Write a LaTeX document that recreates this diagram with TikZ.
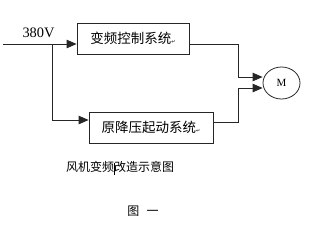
\documentclass[tikz,border=0pt]{standalone}
\usepackage{fontspec}
\setmainfont{Liberation Serif}
\newfontfamily\cjk{Noto Sans CJK SC}
\newfontfamily\djv{DejaVu Sans}
\usetikzlibrary{arrows.meta,shapes.geometric}
\begin{document}
\begin{tikzpicture}[x=1pt,y=-1pt,
  wire/.style={line width=0.8pt,draw=black!85},
  arr/.style={wire,-{Triangle[length=10pt,width=8.5pt]}},
  sysbox/.style={draw=black!85,line width=0.8pt,rectangle,inner sep=0pt,minimum height=31pt,font=\cjk\fontsize{13.5}{14}\selectfont},
  ]
\useasboundingbox (0,0) rectangle (310,226);
\node[sysbox,minimum width=112pt] (box1) at (133,38.5) {变频控制系统\raisebox{0pt}{\djv\fontsize{5}{5}\selectfont ↵}};
\node[sysbox,minimum width=124pt] (box2) at (151,127.5) {原降压起动系统\raisebox{0pt}{\djv\fontsize{5}{5}\selectfont ↵}};
\node[ellipse,draw=black!85,line width=0.8pt,minimum width=37pt,minimum height=32pt,inner sep=0pt,font=\fontsize{11}{11}\selectfont] (m) at (281.5,83) {M};
\node[font=\fontsize{14.4}{15}\selectfont,inner sep=0pt] (v) at (38.5,32.5) {380V};
\coordinate (in) at (3,44);
\coordinate (j1) at (52,44);
\coordinate (j2) at (52,120);
\coordinate (y2) at (0,122);
\coordinate (k1) at (238,77);
\coordinate (k2) at (238,88);
\draw[arr] (in) -- (box1.west |- j1);
\draw[arr] (j1) -- (j2) -- (box2.west |- j2);
\draw[wire] (box1.east |- j1) -| (k1);
\draw[arr] (k1) -- (m.west |- k1);
\draw[wire] (box2.east |- y2) -| (k2);
\draw[arr] (k2) -- (m.west |- k2);
\node[font=\cjk\fontsize{12}{12}\selectfont,inner sep=0pt] (cap) at (120,167) {风机变频改造示意图};
\coordinate (cur1) at (114.3,162.5);
\coordinate (cur2) at (114.3,175);
\draw[line width=0.9pt] (cur1) -- (cur2);
\node[font=\cjk\fontsize{12}{12}\selectfont,inner sep=0pt] (fig) at (143,211) {图\hspace{0.6em}一};
\end{tikzpicture}
\end{document}
